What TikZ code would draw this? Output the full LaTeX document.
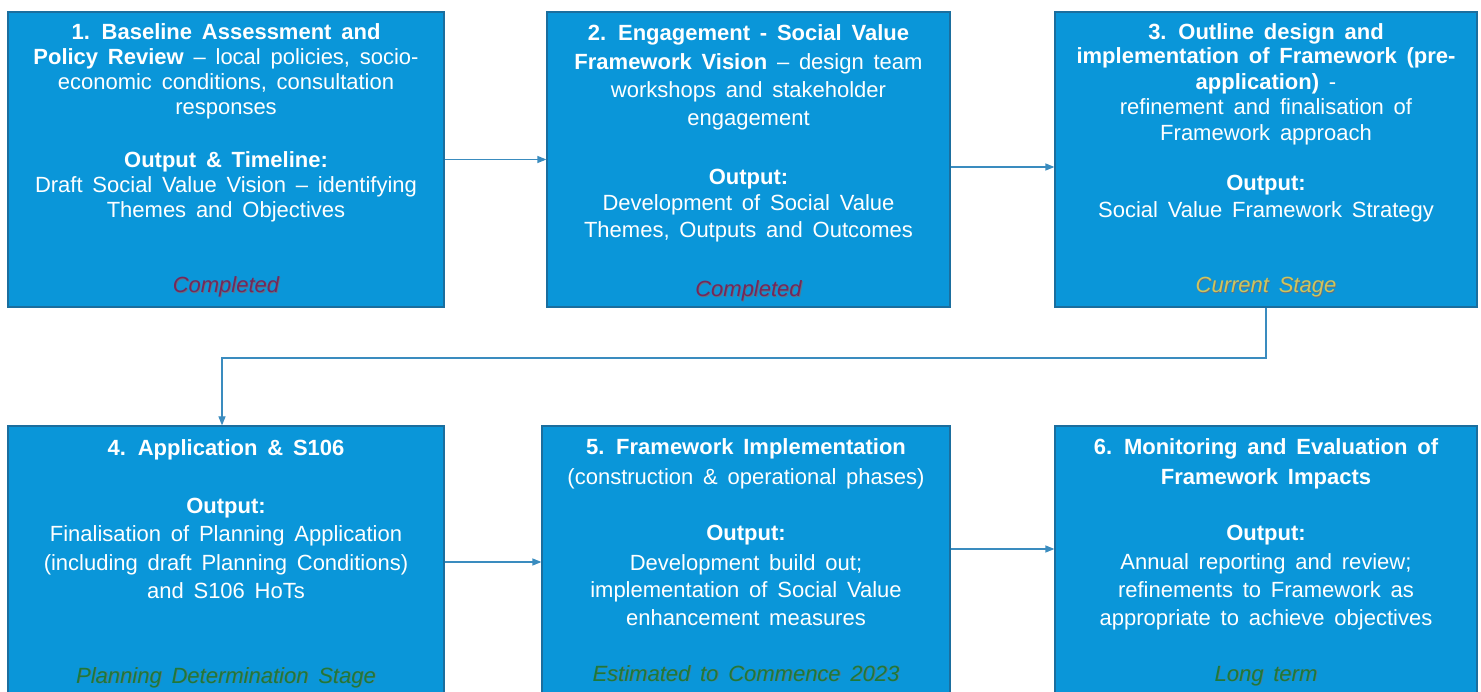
\documentclass[tikz,border=0pt]{standalone}
\usepackage{fontspec}
\setmainfont{Liberation Sans}[WordSpace=1.6]
\usetikzlibrary{arrows.meta}

\definecolor{boxblue}{HTML}{0A96D9}
\definecolor{boxedge}{HTML}{1B6E9E}
\definecolor{linkblue}{HTML}{3A8CBF}
\definecolor{donered}{HTML}{74285A}
\definecolor{nowyellow}{HTML}{CFC45C}
\definecolor{latergreen}{HTML}{1C7A3A}
\definecolor{textshade}{HTML}{1D3550}

% status label with a small drop shadow behind the lettering
\newcommand{\shadedlabel}[1]{{\color{textshade!70}\rlap{\kern0.8pt\raisebox{-0.8pt}{#1}}}#1}

\begin{document}
\begin{tikzpicture}[x=1pt,y=-1pt,
  stagebox/.style={draw=boxedge, line width=1.2pt, fill=boxblue, inner sep=0pt},
  txt/.style={anchor=base, inner sep=0pt, text=white, font=\fontsize{22}{25}\selectfont},
  status/.style={anchor=base, inner sep=0pt, font=\fontsize{22}{25}\selectfont\itshape},
  link/.style={draw=linkblue, line width=1.2pt, -{Triangle[length=9pt,width=7pt]}}]

\useasboundingbox (0,0) rectangle (1481,692);
\clip (0,0) rectangle (1481,692);
\fill[white] (0,0) rectangle (1481,692);

% ---- stage boxes ----
\node[stagebox, minimum width=436pt, minimum height=295pt] (b1) at (226,159.5) {};
\node[stagebox, minimum width=403pt, minimum height=295pt] (b2) at (748.5,159.5) {};
\node[stagebox, minimum width=422pt, minimum height=295pt] (b3) at (1266,159.5) {};
\node[stagebox, minimum width=436pt, minimum height=274pt] (b4) at (226,563) {};
\node[stagebox, minimum width=408pt, minimum height=274pt] (b5) at (746,563) {};
\node[stagebox, minimum width=422pt, minimum height=274pt] (b6) at (1266,563) {};

% ---- stage 1 ----
\node[txt] (b1a) at (226,40)  {\textbf{1. Baseline Assessment and}};
\node[txt] (b1b) at (226,65)  {\textbf{Policy Review} -- local policies, socio-};
\node[txt] (b1c) at (226,90)  {economic conditions, consultation};
\node[txt] (b1d) at (226,115) {responses};
\node[txt] (b1e) at (226,168) {\textbf{Output \& Timeline:}};
\node[txt] (b1f) at (226,193) {Draft Social Value Vision -- identifying};
\node[txt] (b1g) at (226,218) {Themes and Objectives};
\node[status, text=donered] (b1s) at (226,293) {\shadedlabel{Completed}};

% ---- stage 2 ----
\node[txt] (b2a) at (748.5,41)  {\textbf{2. Engagement - Social Value}};
\node[txt] (b2b) at (748.5,70)  {\textbf{Framework Vision} -- design team};
\node[txt] (b2c) at (748.5,98)  {workshops and stakeholder};
\node[txt] (b2d) at (748.5,126) {engagement};
\node[txt] (b2e) at (748.5,185) {\textbf{Output:}};
\node[txt] (b2f) at (748.5,211) {Development of Social Value};
\node[txt] (b2g) at (748.5,238) {Themes, Outputs and Outcomes};
\node[status, text=donered] (b2s) at (748.5,297) {\shadedlabel{Completed}};

% ---- stage 3 ----
\node[txt] (b3a) at (1266,40)  {\textbf{3. Outline design and}};
\node[txt] (b3b) at (1266,64)  {\textbf{implementation of Framework (pre-}};
\node[txt] (b3c) at (1266,90)  {\textbf{application)} -};
\node[txt] (b3d) at (1266,115) {refinement and finalisation of};
\node[txt] (b3e) at (1266,141) {Framework approach};
\node[txt] (b3f) at (1266,191) {\textbf{Output:}};
\node[txt] (b3g) at (1266,218) {Social Value Framework Strategy};
\node[status, text=nowyellow] (b3s) at (1266,293) {\shadedlabel{Current Stage}};

% ---- stage 4 ----
\node[txt] (b4a) at (226,456) {\textbf{4. Application \& S106}};
\node[txt] (b4b) at (226,513) {\textbf{Output:}};
\node[txt] (b4c) at (226,541) {Finalisation of Planning Application};
\node[txt] (b4d) at (226,570) {(including draft Planning Conditions)};
\node[txt] (b4e) at (226,598) {and S106 HoTs};
\node[status, text=latergreen] (b4s) at (226,683) {\shadedlabel{Planning Determination Stage}};

% ---- stage 5 ----
\node[txt] (b5a) at (746,455) {\textbf{5. Framework Implementation}};
\node[txt] (b5b) at (746,485) {(construction \& operational phases)};
\node[txt] (b5c) at (746,540) {\textbf{Output:}};
\node[txt] (b5d) at (746,570) {Development build out;};
\node[txt] (b5e) at (746,597) {implementation of Social Value};
\node[txt] (b5f) at (746,625) {enhancement measures};
\node[status, text=latergreen] (b5s) at (746,681) {\shadedlabel{Estimated to Commence 2023}};

% ---- stage 6 ----
\node[txt] (b6a) at (1266,455) {\textbf{6. Monitoring and Evaluation of}};
\node[txt] (b6b) at (1266,484) {\textbf{Framework Impacts}};
\node[txt] (b6c) at (1266,540) {\textbf{Output:}};
\node[txt] (b6d) at (1266,569) {Annual reporting and review;};
\node[txt] (b6e) at (1266,597) {refinements to Framework as};
\node[txt] (b6f) at (1266,625) {appropriate to achieve objectives};
\node[status, text=latergreen] (b6s) at (1266,681) {\shadedlabel{Long term}};

% ---- connectors ----
\coordinate (turn) at (222,358);
\draw[link] (b1.east) -- (b2.west);
\draw[link] ([yshift=-7.5pt]b2.east) -- ([yshift=-7.5pt]b3.west);
\draw[link] (b3.south) -- (b3.south |- turn) -- (turn) -- (turn |- b4.north);
\draw[link] ([yshift=1pt]b4.east) -- ([yshift=1pt]b5.west);
\draw[link] ([yshift=14pt]b5.east) -- ([yshift=14pt]b6.west);

\end{tikzpicture}
\end{document}
